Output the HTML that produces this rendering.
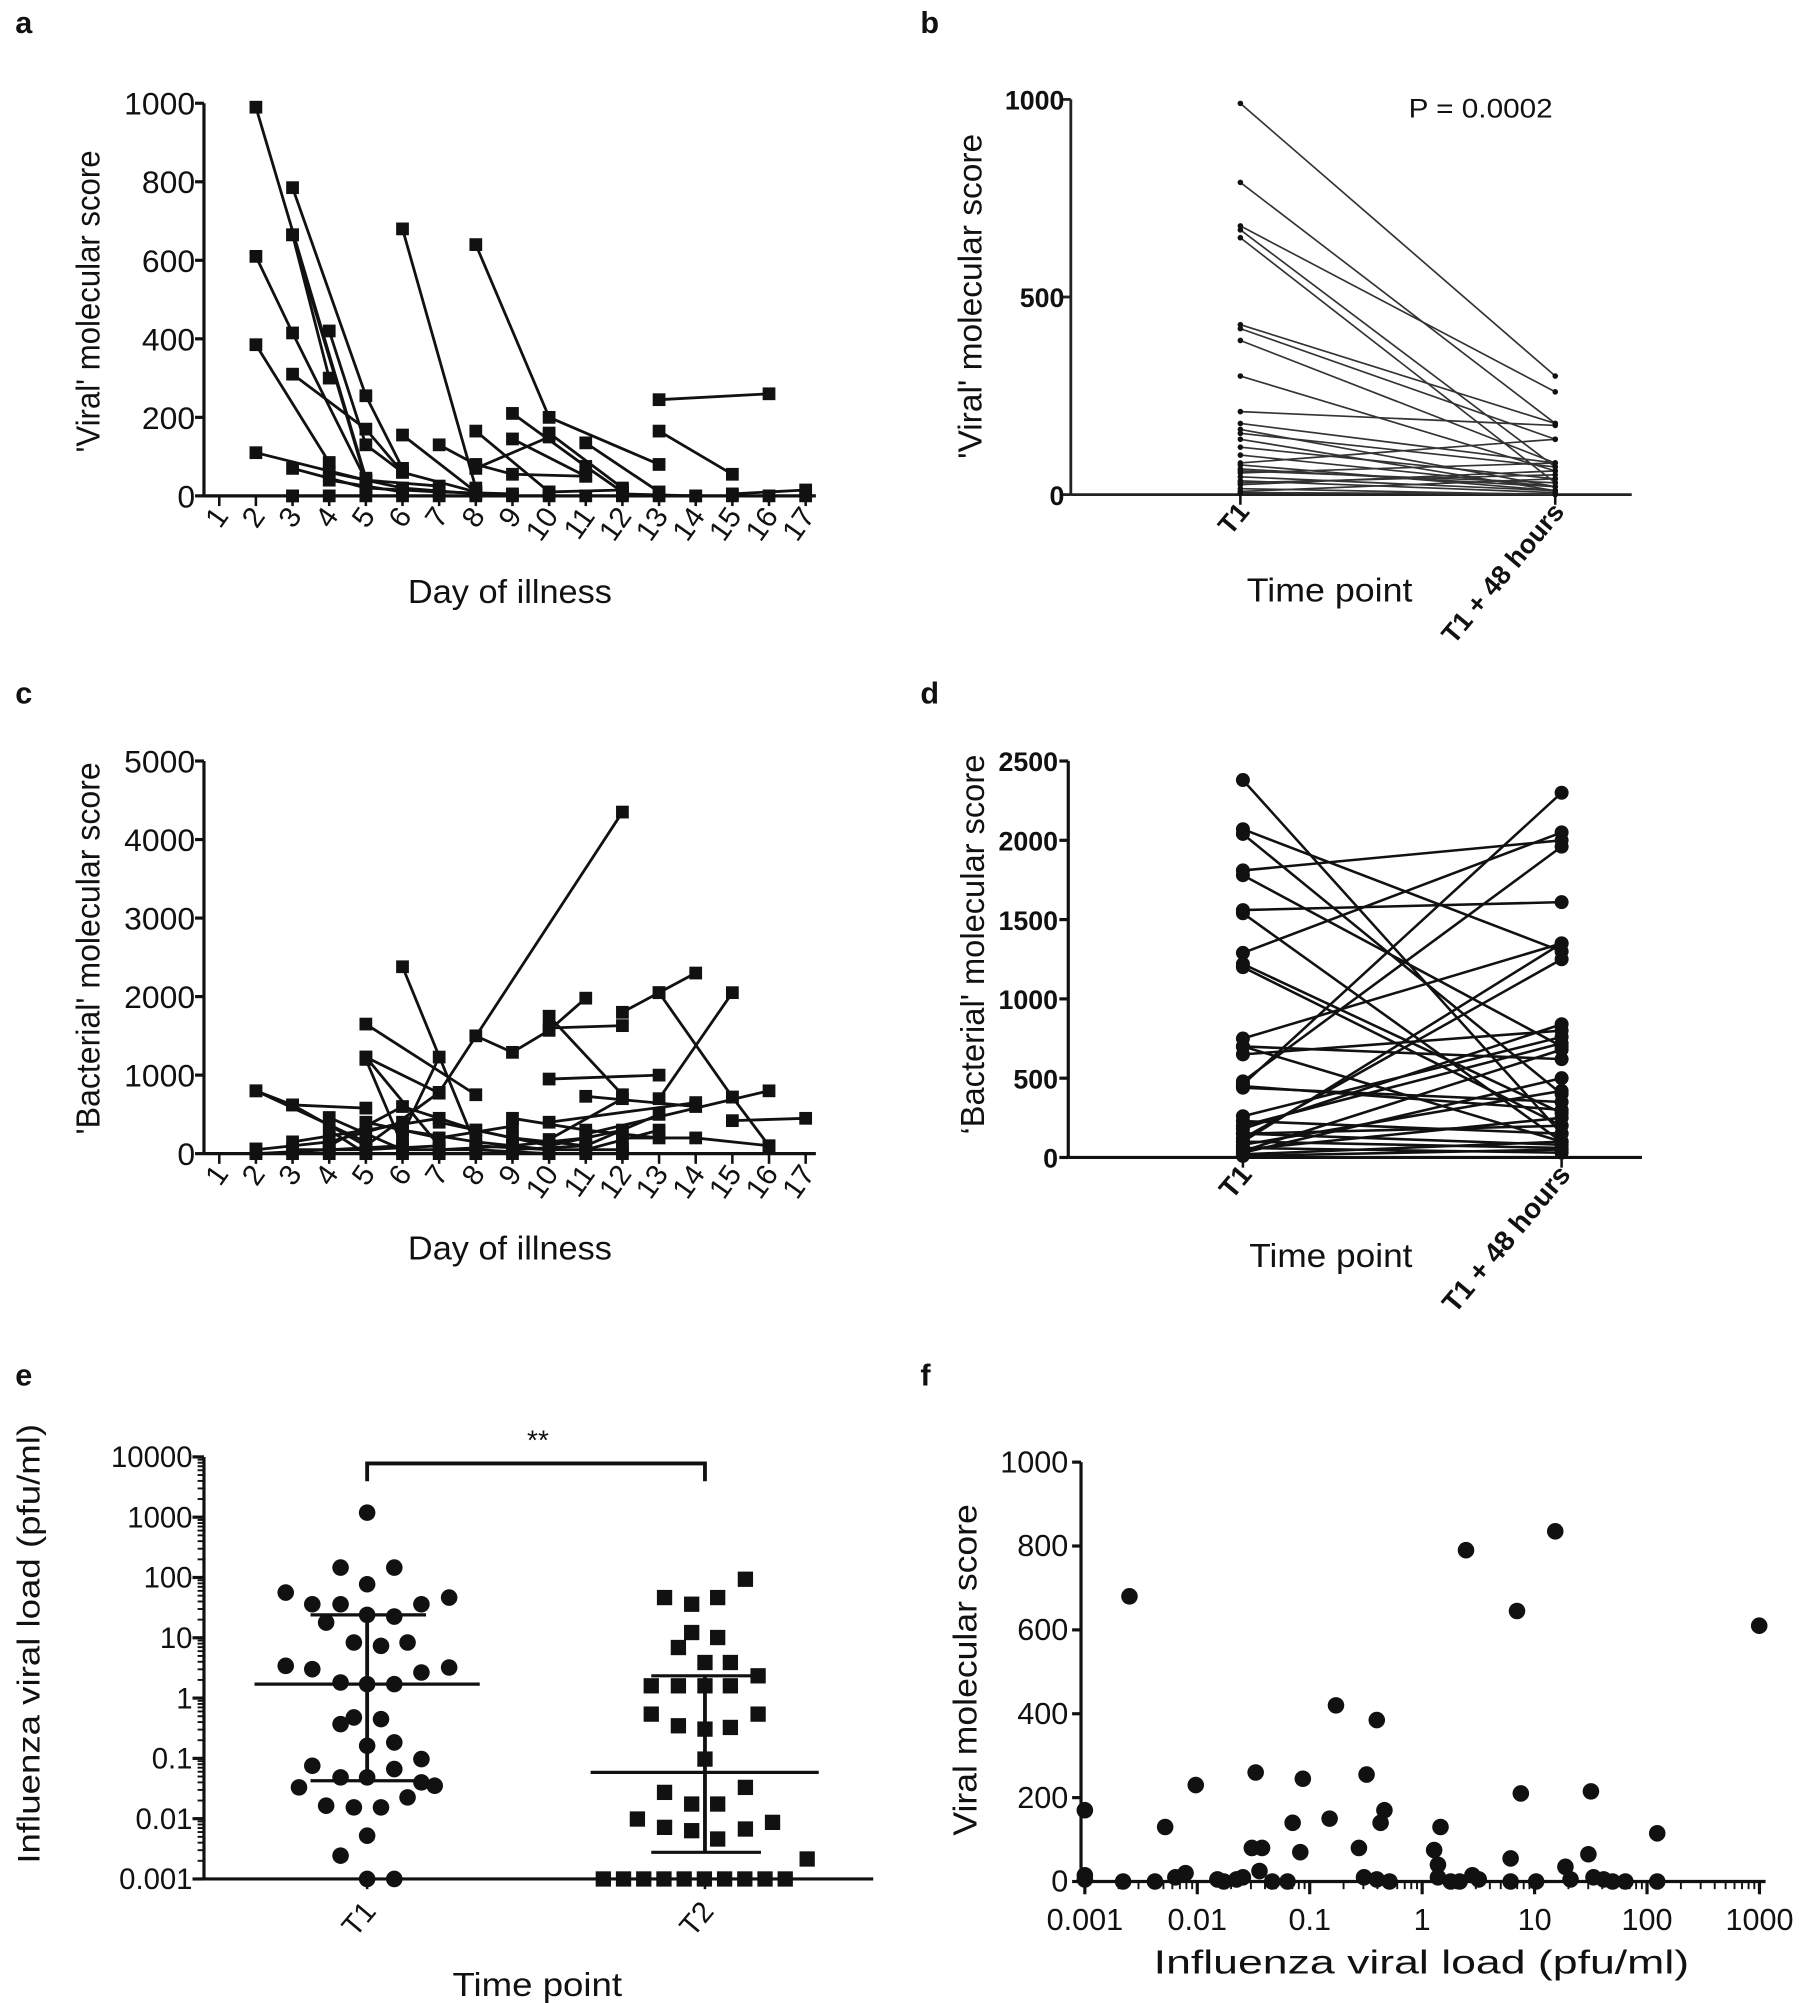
<!DOCTYPE html>
<html><head><meta charset="utf-8"><style>
html,body{margin:0;padding:0;background:#fff;}
svg{display:block;}
text{font-family:"Liberation Sans",Arial,sans-serif;fill:#111;}
</style></head><body>
<svg id="s" width="1800" height="2003" viewBox="0 0 1412 1571.3" preserveAspectRatio="none" xmlns="http://www.w3.org/2000/svg">
<rect width="1412" height="1572" fill="#fff"/>
<g font-weight="bold" font-size="24">
<text x="12" y="26">a</text><text x="722" y="26">b</text>
<text x="12" y="552">c</text><text x="722" y="552">d</text>
<text x="12" y="1087">e</text><text x="722" y="1087">f</text>
</g>
<g id="ga"></g>
<text x="320" y="473" font-size="26" textLength="160" lengthAdjust="spacingAndGlyphs">Day of illness</text>
<text transform="translate(78,355) rotate(-90)" font-size="26" textLength="237" lengthAdjust="spacingAndGlyphs">'Viral' molecular score</text>
<g id="gc"></g>
<text x="320" y="988" font-size="26" textLength="160" lengthAdjust="spacingAndGlyphs">Day of illness</text>
<text transform="translate(78,890) rotate(-90)" font-size="26" textLength="292" lengthAdjust="spacingAndGlyphs">'Bacterial' molecular score</text>
<g id="gb"></g>
<text x="1105" y="92" font-size="21" textLength="113" lengthAdjust="spacingAndGlyphs">P = 0.0002</text>
<text x="978" y="472" font-size="26" textLength="130" lengthAdjust="spacingAndGlyphs">Time point</text>
<text transform="translate(770,360) rotate(-90)" font-size="26" textLength="255" lengthAdjust="spacingAndGlyphs">'Viral' molecular score</text>
<g id="gd"></g>
<text x="980" y="994" font-size="26" textLength="128" lengthAdjust="spacingAndGlyphs">Time point</text>
<text transform="translate(772,890) rotate(-90)" font-size="26" textLength="298" lengthAdjust="spacingAndGlyphs">‘Bacterial' molecular score</text>
<g id="ge"></g>
<text x="422" y="1137" font-size="22" text-anchor="middle">**</text>
<text x="355" y="1566" font-size="26" textLength="133" lengthAdjust="spacingAndGlyphs">Time point</text>
<text transform="translate(31,1462) rotate(-90)" font-size="25" textLength="345" lengthAdjust="spacingAndGlyphs">Influenza viral load (pfu/ml)</text>
<g id="gf"></g>
<text x="905" y="1548" font-size="26" textLength="420" lengthAdjust="spacingAndGlyphs">Influenza viral load (pfu/ml)</text>
<text transform="translate(766,1440) rotate(-90)" font-size="26" textLength="260" lengthAdjust="spacingAndGlyphs">Viral molecular score</text>
</svg>
<script>
var NS="http://www.w3.org/2000/svg";
function el(g,t,a,txt){var e=document.createElementNS(NS,t);for(var k in a)e.setAttribute(k,a[k]);if(txt!==undefined)e.textContent=txt;document.getElementById(g).appendChild(e);return e;}
function ln(g,x1,y1,x2,y2,w,c){el(g,'line',{x1:x1,y1:y1,x2:x2,y2:y2,stroke:c||'#111','stroke-width':w||2});}
function sq(g,x,y,s){el(g,'rect',{x:x-s/2,y:y-s/2,width:s,height:s,fill:'#111'});}
function ci(g,x,y,r){el(g,'circle',{cx:x,cy:y,r:r,fill:'#111'});}
function txt(g,x,y,t,a){var o={x:x,y:y,'font-size':25,'text-anchor':'end'};for(var k in a)o[k]=a[k];el(g,'text',o,t);}
(function(){
var g='ga',X=function(d){return 172+(d-1)*28.75},Y=function(v){return 389-v*0.308};
ln(g,160,81,160,389,2.5);ln(g,160,389,640,389,2.5);
[0,200,400,600,800,1000].forEach(function(v){ln(g,153,Y(v),160,Y(v),2.5);txt(g,153,Y(v)+9,''+v);});
for(var d=1;d<=17;d++){ln(g,X(d),389,X(d),397,2);el(g,'text',{transform:'translate('+(X(d)+8)+',405) rotate(-55)','font-size':23,'text-anchor':'end'},''+d);}
var L=[[[2,990],[5,45]],[[3,785],[5,255],[6,70]],[[3,665],[4,300]],[[3,665],[5,40]],[[2,610],[3,415],[5,40]],[[2,385],[4,85]],[[3,310],[5,170],[6,60]],[[4,420],[5,130],[6,60],[8,10]],[[6,680],[8,20]],[[8,640],[10,200],[13,80]],[[6,155],[8,10]],[[7,130],[8,80],[9,55],[11,50]],[[8,165],[10,10]],[[9,210],[11,75],[12,10]],[[9,145],[11,50]],[[8,70],[10,150]],[[10,160],[12,20]],[[11,135],[13,10]],[[13,245],[16,260]],[[13,165],[15,55]],[[2,110],[5,40],[7,25]],[[3,70],[5,20]],[[4,40],[6,10]],[[15,5],[17,15]],[[4,60],[6,20],[8,5]],[[5,20],[7,10],[9,5]],[[10,10],[12,15]],[[12,5],[14,0]],[[3,0],[17,0]]];
L.forEach(function(s){var p=s.map(function(q){return X(q[0])+','+Y(q[1])}).join(' ');el(g,'polyline',{points:p,fill:'none',stroke:'#111','stroke-width':2.2});s.forEach(function(q){sq(g,X(q[0]),Y(q[1]),10);});});
[3,4,5,6,7,8,9,10,11,12,13,14,15,16].forEach(function(d){sq(g,X(d),Y(0),10);});
})();
(function(){
var g='gc',X=function(d){return 172+(d-1)*28.75},Y=function(v){return 905-v*0.0616};
ln(g,160,597,160,905,2.5);ln(g,160,905,640,905,2.5);
[0,1000,2000,3000,4000,5000].forEach(function(v){ln(g,153,Y(v),160,Y(v),2.5);txt(g,153,Y(v)+9,''+v);});
for(var d=1;d<=17;d++){ln(g,X(d),905,X(d),913,2);el(g,'text',{transform:'translate('+(X(d)+8)+',921) rotate(-55)','font-size':23,'text-anchor':'end'},''+d);}
var L=[[[2,800],[3,620],[5,580]],[[2,800],[5,150]],[[3,620],[5,100]],[[4,460],[6,50]],[[5,1650],[8,750]],[[5,1230],[7,770]],[[5,1230],[7,100]],[[5,1200],[6,100]],[[6,2380],[8,100]],[[6,250],[7,1230]],[[5,100],[7,780],[12,4350]],[[8,1500],[9,1290],[10,1570],[11,1980]],[[10,1600],[12,1630]],[[12,1800],[13,2050],[14,2300]],[[13,2050],[15,720]],[[10,1750],[12,750]],[[10,950],[13,1000]],[[13,700],[15,2050]],[[11,730],[14,600]],[[15,420],[17,450]],[[15,720],[16,100]],[[12,200],[14,200],[16,100]],[[11,250],[16,800]],[[10,400],[14,650]],[[10,180],[12,700]],
[[2,50],[4,150],[6,400]],[[3,150],[5,300],[7,450]],[[4,100],[6,600],[8,300]],[[5,400],[7,200],[9,350]],[[6,300],[8,150],[10,50]],[[7,400],[9,200],[11,100]],[[8,300],[10,100],[12,300]],[[9,450],[11,300],[13,200]],[[2,0],[4,50],[6,100]],[[3,50],[5,50],[7,100]],[[7,50],[9,100],[11,200]],[[8,100],[10,50],[12,50]],[[9,50],[11,100],[13,500]],[[11,50],[13,300]],[[4,300],[5,0]],[[6,50],[8,50],[10,0]]];
L.forEach(function(s){var p=s.map(function(q){return X(q[0])+','+Y(q[1])}).join(' ');el(g,'polyline',{points:p,fill:'none',stroke:'#111','stroke-width':2.2});s.forEach(function(q){sq(g,X(q[0]),Y(q[1]),10);});});
[2,3,4,5,6,7,8,9,10,11,12].forEach(function(d){sq(g,X(d),Y(0),10);sq(g,X(d),Y(60),10);});
})();
(function(){
var g='gb',Y=function(v){return 388-v*0.31},x1=973,x2=1220;
ln(g,840,78,840,388,2.2,'#222');ln(g,840,388,1280,388,2.2,'#222');
[0,500,1000].forEach(function(v){ln(g,833,Y(v),840,Y(v),2.2,'#222');txt(g,835,Y(v)+8,''+v,{'font-weight':'bold','font-size':21});});
ln(g,x1,388,x1,396,2);ln(g,x2,388,x2,396,2);
el(g,'text',{transform:'translate('+(x1+8)+',402) rotate(-50)','font-size':21,'text-anchor':'end','font-weight':'bold'},'T1');
el(g,'text',{transform:'translate('+(x2+8)+',402) rotate(-50)','font-size':21,'text-anchor':'end','font-weight':'bold'},'T1 + 48 hours');
var P=[[990,300],[790,180],[680,260],[670,70],[650,30],[430,180],[420,140],[390,80],[300,60],[210,175],[180,80],[165,20],[155,70],[140,10],[120,40],[100,20],[80,140],[75,10],[65,20],[55,80],[45,10],[35,5],[25,60],[15,0],[8,40],[5,2],[60,30],[30,50]];
P.forEach(function(p){ln(g,x1,Y(p[0]),x2,Y(p[1]),1.3,'#333');ci(g,x1,Y(p[0]),2.2);ci(g,x2,Y(p[1]),2.2);});
})();
(function(){
var g='gd',Y=function(v){return 908-v*0.1244},x1=975,x2=1225;
ln(g,838,597,838,908,2.5);ln(g,838,908,1288,908,2.5);
[0,500,1000,1500,2000,2500].forEach(function(v){ln(g,831,Y(v),838,Y(v),2.5);txt(g,830,Y(v)+8,''+v,{'font-weight':'bold','font-size':21});});
ln(g,x1,908,x1,916,2);ln(g,x2,908,x2,916,2);
el(g,'text',{transform:'translate('+(x1+8)+',922) rotate(-50)','font-size':22,'text-anchor':'end','font-weight':'bold'},'T1');
el(g,'text',{transform:'translate('+(x2+8)+',922) rotate(-50)','font-size':22,'text-anchor':'end','font-weight':'bold'},'T1 + 48 hours');
var P=[[2380,150],[2070,1300],[2040,400],[1810,2000],[1780,700],[1560,1610],[1540,100],[1290,2050],[1220,280],[750,1350],[700,620],[650,800],[480,1960],[460,2300],[440,350],[260,760],[230,150],[200,720],[180,840],[150,200],[120,1250],[100,60],[80,420],[60,30],[40,680],[20,100],[10,50],[450,300],[1200,200],[700,100],[100,1350],[50,250],[30,500],[150,80]];
P.forEach(function(p){ln(g,x1,Y(p[0]),x2,Y(p[1]),2,'#111');ci(g,x1,Y(p[0]),5.5);ci(g,x2,Y(p[1]),5.5);});
})();
(function(){
var g='ge',Y=function(l){return 1474-(l+3)*47.3};
ln(g,160,1143,160,1474,2.5);ln(g,160,1474,685,1474,2.5);
var lab=['0.001','0.01','0.1','1','10','100','1000','10000'];
for(var i=0;i<8;i++){var y=Y(i-3);ln(g,151,y,160,y,2.5);txt(g,151,y+8,lab[i],{'font-size':23});
 if(i<7)for(var m=2;m<10;m++){var ym=Y(i-3+Math.log10(m));ln(g,155,ym,160,ym,1.5);}}
ln(g,288,1474,288,1482,2);ln(g,553,1474,553,1482,2);
el(g,'text',{transform:'translate(296,1500) rotate(-50)','font-size':23,'text-anchor':'end'},'T1');
el(g,'text',{transform:'translate(561,1500) rotate(-50)','font-size':23,'text-anchor':'end'},'T2');
el(g,'polyline',{points:'288,1162 288,1148 553,1148 553,1162',fill:'none',stroke:'#111','stroke-width':3});
var zy=function(z){return 1143+(z-118)*(331/1267)};var zx=function(z){return 288+(z-643)*0.453};
var T1=[[643,285],[597,450],[690,450],[643,500],[502,525],[548,560],[597,560],[737,560],[785,540],[643,592],[690,597],[572,615],[620,675],[667,685],[713,675],[502,745],[548,755],[597,795],[643,800],[690,800],[737,765],[785,750],[597,920],[620,900],[667,905],[643,985],[690,975],[737,1025],[548,1045],[690,1055],[597,1080],[643,1080],[737,1095],[525,1110],[760,1105],[713,1140],[572,1165],[620,1170],[667,1170],[643,1255],[597,1315],[643,1385],[690,1385]];
T1.forEach(function(p){ci(g,zx(p[0]),zy(p[1]),6.5);});
var T2=[[1298,485],[1158,540],[1205,560],[1250,540],[1205,645],[1250,660],[1182,690],[1228,735],[1272,735],[1320,775],[1135,805],[1182,805],[1228,805],[1272,805],[1320,890],[1135,890],[1182,925],[1228,935],[1272,930],[1228,1025],[1298,1110],[1158,1125],[1205,1160],[1250,1160],[1111,1205],[1158,1230],[1205,1240],[1298,1235],[1345,1215],[1250,1265],[1405,1325]];
for(var z=1052;z<=1370;z+=35)T2.push([z,1385]);
T2.forEach(function(p){sq(g,zx(p[0]),zy(p[1]),12);});
ln(g,zx(448),zy(800),zx(838),zy(800),2.5);ln(g,288,zy(592),288,zy(1090),3);ln(g,zx(545),zy(592),zx(745),zy(592),2.5);ln(g,zx(545),zy(1090),zx(745),zy(1090),2.5);
ln(g,zx(1030),zy(1065),zx(1425),zy(1065),2.5);ln(g,553,zy(775),553,zy(1305),3);ln(g,zx(1135),zy(775),zx(1325),zy(775),2.5);ln(g,zx(1135),zy(1305),zx(1325),zy(1305),2.5);
})();
(function(){
var g='gf',Y=function(v){return 1476-v*0.329},X=function(l){return 851+(l+3)*88.2};
ln(g,848,1147,848,1476,2.5);ln(g,848,1476,1385,1476,2.5);
[0,200,400,600,800,1000].forEach(function(v){ln(g,841,Y(v),848,Y(v),2.5);txt(g,838,Y(v)+8,''+v,{'font-size':24});});
var lab=['0.001','0.01','0.1','1','10','100','1000'];
for(var i=0;i<7;i++){var x=X(i-3);ln(g,x,1476,x,1486,2.5);el(g,'text',{x:x,y:1514,'font-size':24,'text-anchor':'middle'},lab[i]);
 if(i<6)for(var m=2;m<10;m++){var xm=X(i-3+Math.log10(m));ln(g,xm,1476,xm,1482,1.5);}}
var P=[[851,170],[851,15],[851,5],[881,0],[886,680],[906,0],[914,130],[922,10],[930,20],[938,230],[955,5],[960,0],[970,5],[975,10],[982,80],[985,260],[990,80],[988,25],[998,0],[1010,0],[1014,140],[1022,245],[1020,70],[1048,420],[1043,150],[1066,80],[1072,255],[1070,10],[1080,385],[1083,140],[1086,170],[1080,5],[1090,0],[1125,75],[1128,40],[1130,130],[1128,10],[1138,0],[1145,0],[1150,790],[1155,15],[1160,5],[1185,55],[1190,645],[1193,210],[1185,0],[1205,0],[1220,835],[1228,35],[1232,5],[1248,215],[1246,65],[1250,10],[1258,5],[1265,0],[1275,0],[1300,115],[1300,0],[1380,610]];
P.forEach(function(p){ci(g,p[0],Y(p[1]),6.5);});
})();
</script>
</body></html>
